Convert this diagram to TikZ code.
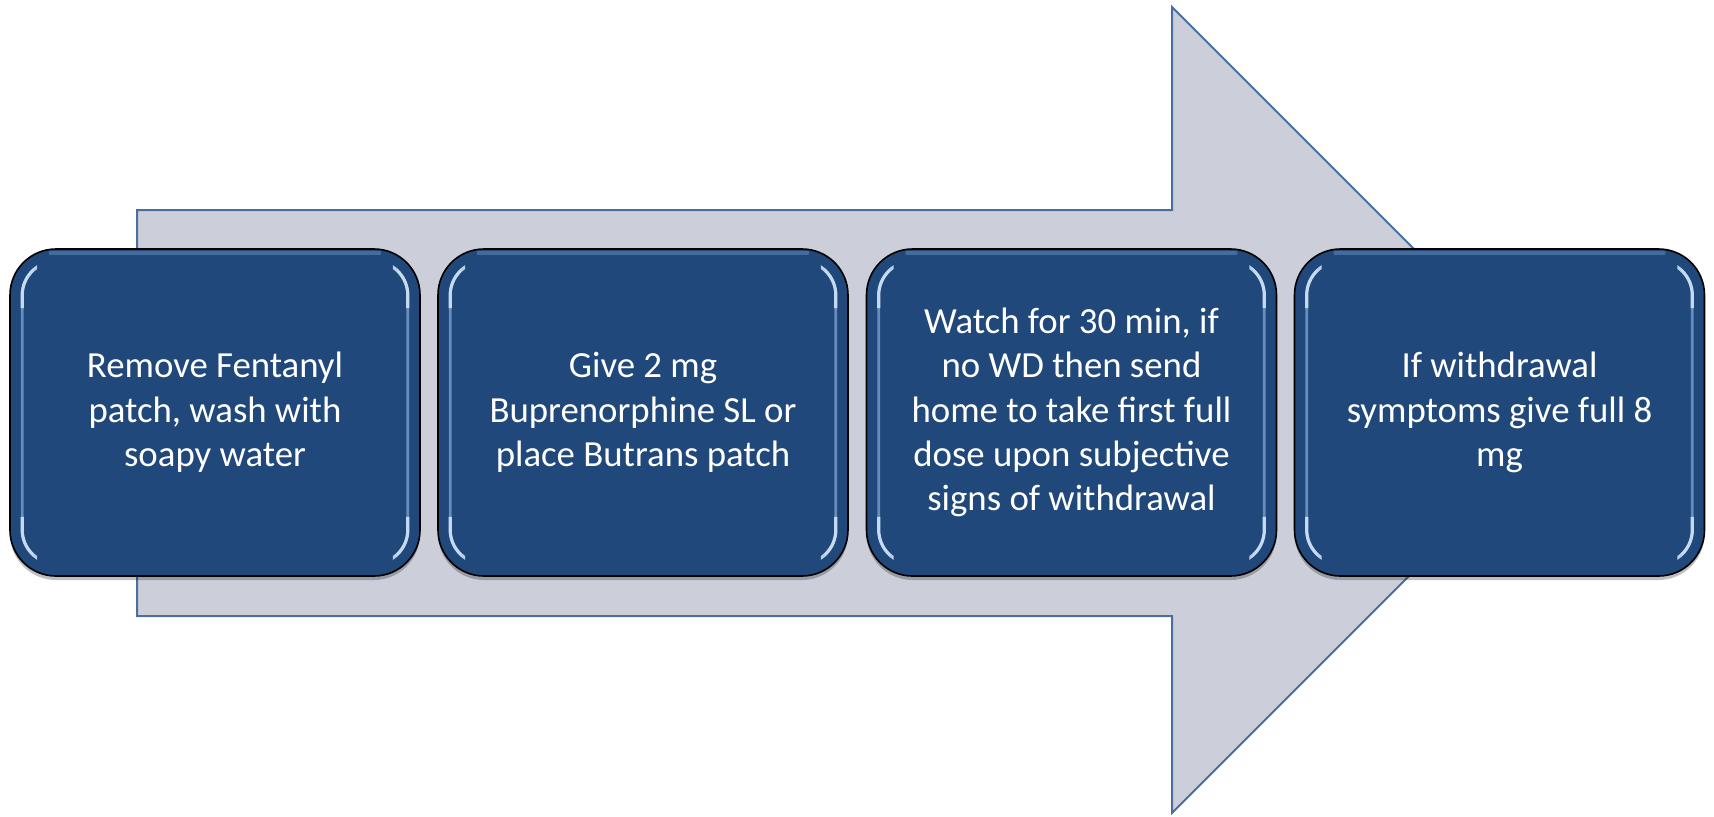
\documentclass[tikz,border=0pt]{standalone}
\usepackage{fontspec}
\setmainfont{Carlito}
\usetikzlibrary{shadows}

\definecolor{arrowfill}{RGB}{204,207,217}
\definecolor{arrowline}{RGB}{74,110,160}
\definecolor{boxfill}{RGB}{32,72,122}
\definecolor{gloss}{RGB}{150,188,232}
\definecolor{glossbright}{RGB}{215,232,252}

\tikzset{
  stepbox/.style={draw=black, line width=0.8pt, fill=boxfill,
    rounded corners=23pt, minimum width=205pt, minimum height=163.5pt,
    inner sep=0pt, text=white, align=center,
    font=\fontsize{18.4}{22.2}\selectfont,
    drop shadow={shadow xshift=0pt, shadow yshift=-2pt, opacity=0.25, fill=black}},
  glossline/.style={draw=gloss, line width=1.4pt, opacity=0.6, rounded corners=17pt},
  glossbright/.style={draw=glossbright, line width=1.6pt, opacity=0.85, rounded corners=17pt},
  bigarrow/.style={draw=arrowline, line width=1pt, fill=arrowfill, line join=miter}
}

% light reflections along the inner left and right edges of a step box,
% brighter where they bend round the corners
\newcommand\boxgloss[1]{%
  \begin{scope}
    \clip ([xshift=-1pt]#1.north west) rectangle ([xshift=12pt]#1.south west);
    \draw[glossline] ([shift={(6.5pt,-6.5pt)}]#1.north west) rectangle ([shift={(-6.5pt,6.5pt)}]#1.south east);
  \end{scope}
  \begin{scope}
    \clip ([xshift=1pt]#1.north east) rectangle ([xshift=-12pt]#1.south east);
    \draw[glossline] ([shift={(6.5pt,-6.5pt)}]#1.north west) rectangle ([shift={(-6.5pt,6.5pt)}]#1.south east);
  \end{scope}
  \begin{scope}
    \clip ([xshift=-1pt]#1.north west) rectangle ([shift={(14pt,-30pt)}]#1.north west)
          ([xshift=1pt]#1.north east) rectangle ([shift={(-14pt,-30pt)}]#1.north east)
          ([xshift=-1pt]#1.south west) rectangle ([shift={(14pt,30pt)}]#1.south west)
          ([xshift=1pt]#1.south east) rectangle ([shift={(-14pt,30pt)}]#1.south east);
    \draw[glossbright] ([shift={(6.5pt,-6.5pt)}]#1.north west) rectangle ([shift={(-6.5pt,6.5pt)}]#1.south east);
  \end{scope}
  \begin{scope}
    \clip ([xshift=20pt]#1.north west) rectangle ([shift={(-20pt,-6pt)}]#1.north east);
    \draw[draw=gloss, line width=2pt, opacity=0.3] ([shift={(0pt,-2.2pt)}]#1.north west) -- ([shift={(0pt,-2.2pt)}]#1.north east);
  \end{scope}
}

\begin{document}
\begin{tikzpicture}[x=0.5pt, y=-0.5pt]
  \useasboundingbox (0,0) rectangle (1714,816);
  \fill[white] (0,0) rectangle (1714,816);

  % the wide background arrow
  \draw[bigarrow] (137,210) -- (1172,210) -- (1172,7) -- (1575,410)
    -- (1172,813) -- (1172,616) -- (137,616) -- cycle;

  % the four steps
  \node[stepbox] (s1) at (215,412.5) {Remove Fentanyl\\patch, wash with\\soapy water};
  \node[stepbox] (s2) at (643,412.5) {Give 2 mg\\Buprenorphine SL or\\place Butrans patch};
  \node[stepbox] (s3) at (1071.5,412.5) {Watch for 30 min, if\\no WD then send\\home to take first full\\dose upon subjective\\signs of withdrawal};
  \node[stepbox] (s4) at (1499.5,412.5) {If withdrawal\\symptoms give full 8\\mg};

  \boxgloss{s1}
  \boxgloss{s2}
  \boxgloss{s3}
  \boxgloss{s4}
\end{tikzpicture}
\end{document}
